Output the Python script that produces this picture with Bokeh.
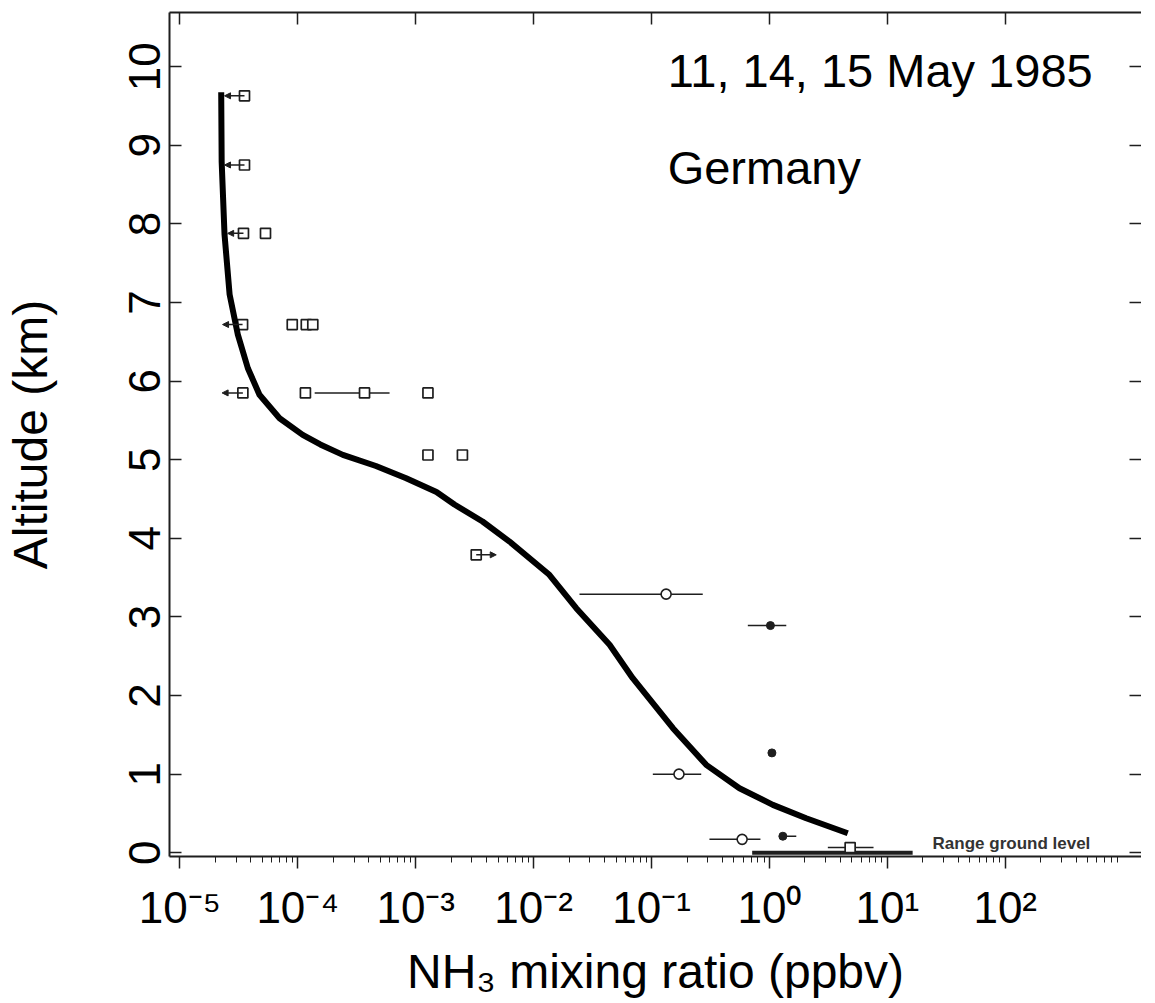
from bokeh.plotting import figure
from bokeh.models import (FixedTicker, LogAxis, LinearAxis, Label, Arrow, NormalHead,
                          ColumnDataSource, Range1d)
from bokeh.embed import file_html
from bokeh.resources import INLINE

# ---------------- data ----------------
x_tick_values = [1e-5, 1e-4, 1e-3, 1e-2, 1e-1, 1e0, 1e1, 1e2]
x_tick_labels = ["10⁻⁵", "10⁻⁴", "10⁻³", "10⁻²", "10⁻¹", "10⁰", "10¹", "10²"]
y_tick_values = [0, 1, 2, 3, 4, 5, 6, 7, 8, 9, 10]

# model profile (thick curve)
curve_ppbv = [2.24e-5, 2.26e-5, 2.39e-5, 2.64e-5, 3.10e-5, 3.77e-5, 4.73e-5, 7.00e-5,
              1.10e-4, 1.55e-4, 2.41e-4, 4.60e-4, 8.30e-4, 1.50e-3, 2.13e-3, 3.69e-3,
              6.25e-3, 1.36e-2, 2.30e-2, 4.41e-2, 6.93e-2, 0.152, 0.291, 0.557,
              1.07, 2.05, 4.62]
curve_km = [9.675, 8.794, 7.865, 7.102, 6.593, 6.164, 5.826, 5.528,
            5.317, 5.195, 5.062, 4.920, 4.765, 4.590, 4.430, 4.214,
            3.959, 3.536, 3.111, 2.645, 2.220, 1.584, 1.118, 0.821,
            0.609, 0.439, 0.248]

# open squares
sq_ppbv = [3.53e-5, 3.53e-5, 3.46e-5, 5.32e-5, 3.40e-5, 8.97e-5, 1.18e-4, 1.34e-4,
           3.42e-5, 1.16e-4, 3.68e-4, 1.27e-3, 1.27e-3, 2.49e-3, 3.26e-3, 4.84]
sq_km = [9.63, 8.75, 7.88, 7.88, 6.72, 6.72, 6.72, 6.72,
         5.85, 5.85, 5.85, 5.85, 5.06, 5.06, 3.79, 0.066]

# upper limits (arrows pointing to lower values)
up_from = [3.53e-5, 3.53e-5, 3.46e-5, 3.40e-5, 3.42e-5]
up_to = [2.39e-5, 2.39e-5, 2.54e-5, 2.30e-5, 2.28e-5]
up_km = [9.63, 8.75, 7.88, 6.72, 5.85]

# lower limit (arrow pointing to higher values)
low_from = [3.26e-3]
low_to = [4.82e-3]
low_km = [3.79]

# open and filled circles
open_ppbv = [0.133, 0.171, 0.587]
open_km = [3.29, 1.00, 0.17]
filled_ppbv = [1.02, 1.05, 1.30]
filled_km = [2.89, 1.27, 0.21]

# horizontal error bars
err_lo = [1.39e-4, 0.0245, 0.656, 0.1026, 0.310, 1.24, 3.13]
err_hi = [6.0e-4, 0.272, 1.39, 0.264, 0.839, 1.69, 7.64]
err_km = [5.85, 3.29, 2.89, 1.00, 0.17, 0.21, 0.066]

# range of ground-level values
ground_lo = [0.714]
ground_hi = [16.4]
ground_km = [0.0]

# ---------------- figure ----------------
INK = "#1e1e1e"
FONT = "Liberation Sans"

p = figure(frame_width=972, frame_height=844,
           x_axis_type="log",
           x_range=Range1d(8.16e-6, 1432), y_range=Range1d(-0.048, 10.69),
           output_backend="svg", toolbar_location=None,
           min_border_left=163, min_border_right=0, min_border_top=12, min_border_bottom=0,
           background_fill_color="white", border_fill_color="white")
p.grid.visible = False
p.outline_line_color = None

# bottom axis
xa = p.xaxis[0]
xa.ticker = FixedTicker(ticks=x_tick_values,
                        minor_ticks=[m * d for d in [1e-5, 1e-4, 1e-3, 1e-2, 1e-1, 1, 10, 100, 1000]
                                     for m in range(2, 10)])
xa.major_label_overrides = dict(zip(x_tick_values, x_tick_labels))
xa.major_label_text_font = FONT
xa.major_label_text_font_size = "44px"
xa.major_label_text_color = "black"
xa.major_label_standoff = 14
xa.major_tick_in = 0
xa.major_tick_out = 12
xa.minor_tick_in = 0
xa.minor_tick_out = 6
xa.axis_line_width = 2
xa.axis_line_color = INK
xa.major_tick_line_color = INK
xa.major_tick_line_width = 1.5
xa.minor_tick_line_color = INK
xa.axis_label = "NH₃ mixing ratio (ppbv)"
xa.axis_label_text_font = FONT
xa.axis_label_text_font_size = "48px"
xa.axis_label_text_font_style = "normal"
xa.axis_label_text_color = "black"
xa.axis_label_standoff = 10

# left axis
ya = p.yaxis[0]
ya.ticker = FixedTicker(ticks=y_tick_values, minor_ticks=[])
ya.major_label_orientation = "vertical"
ya.major_label_text_font = FONT
ya.major_label_text_font_size = "44px"
ya.major_label_text_color = "black"
ya.major_label_standoff = 9
ya.major_tick_in = 12
ya.major_tick_out = 0
ya.axis_line_width = 2
ya.axis_line_color = INK
ya.major_tick_line_color = INK
ya.major_tick_line_width = 1.5
ya.axis_label = "Altitude (km)"
ya.axis_label_text_font = FONT
ya.axis_label_text_font_size = "48px"
ya.axis_label_text_font_style = "normal"
ya.axis_label_text_color = "black"
ya.axis_label_standoff = 70

# top axis (ticks only)
ta = LogAxis(ticker=FixedTicker(ticks=x_tick_values, minor_ticks=[]),
             major_label_overrides={v: "" for v in x_tick_values},
             major_label_text_font_size="1px", major_label_standoff=0,
             major_tick_in=12, major_tick_out=0, minor_tick_in=0, minor_tick_out=0,
             axis_line_width=2, axis_line_color=INK,
             major_tick_line_color=INK, major_tick_line_width=1.5)
p.add_layout(ta, "above")

# right axis (ticks only)
ra = LinearAxis(ticker=FixedTicker(ticks=y_tick_values, minor_ticks=[]),
                major_label_overrides={v: "" for v in y_tick_values},
                major_label_text_font_size="1px", major_label_standoff=0,
                major_tick_in=12, major_tick_out=0, minor_tick_in=0, minor_tick_out=0,
                axis_line_color=None, major_tick_line_color=INK, major_tick_line_width=1.5)
p.add_layout(ra, "right")

# ground-level range bar
p.segment(x0=ground_lo, y0=ground_km, x1=ground_hi, y1=ground_km,
          line_color=INK, line_width=4)

# error bars
p.segment(x0=err_lo, y0=err_km, x1=err_hi, y1=err_km, line_color=INK, line_width=1.5)

# limit arrows
up_src = ColumnDataSource(dict(x0=up_from, x1=up_to, y=up_km))
p.add_layout(Arrow(source=up_src, x_start="x0", y_start="y", x_end="x1", y_end="y",
                   line_color=INK, line_width=1.5,
                   end=NormalHead(size=6, line_color=INK, fill_color=INK)))
low_src = ColumnDataSource(dict(x0=low_from, x1=low_to, y=low_km))
p.add_layout(Arrow(source=low_src, x_start="x0", y_start="y", x_end="x1", y_end="y",
                   line_color=INK, line_width=1.5,
                   end=NormalHead(size=6, line_color=INK, fill_color=INK)))

# markers
p.scatter(sq_ppbv, sq_km, marker="square", size=10, line_color=INK, line_width=1.7,
          fill_color="white")
p.scatter(open_ppbv, open_km, marker="circle", size=10, line_color=INK, line_width=1.6,
          fill_color="white")
p.scatter(filled_ppbv, filled_km, marker="circle", size=8, line_color=INK,
          fill_color=INK)

# model curve
p.line(curve_ppbv, curve_km, line_color="black", line_width=6, line_cap="butt",
       line_join="round")

# annotations
p.add_layout(Label(x=0.137, y=9.95, text="11, 14, 15 May 1985", text_font=FONT,
                   text_font_size="47px", text_color="black", text_baseline="alphabetic"))
p.add_layout(Label(x=0.137, y=8.72, text="Germany", text_font=FONT,
                   text_font_size="47px", text_color="black", text_baseline="alphabetic"))
p.add_layout(Label(x=24.2, y=0.12, text="Range ground level", text_font=FONT,
                   text_font_size="17px", text_font_style="bold", text_color="#333333",
                   text_baseline="middle"))

open("out.html", "w").write(file_html(p, INLINE))
